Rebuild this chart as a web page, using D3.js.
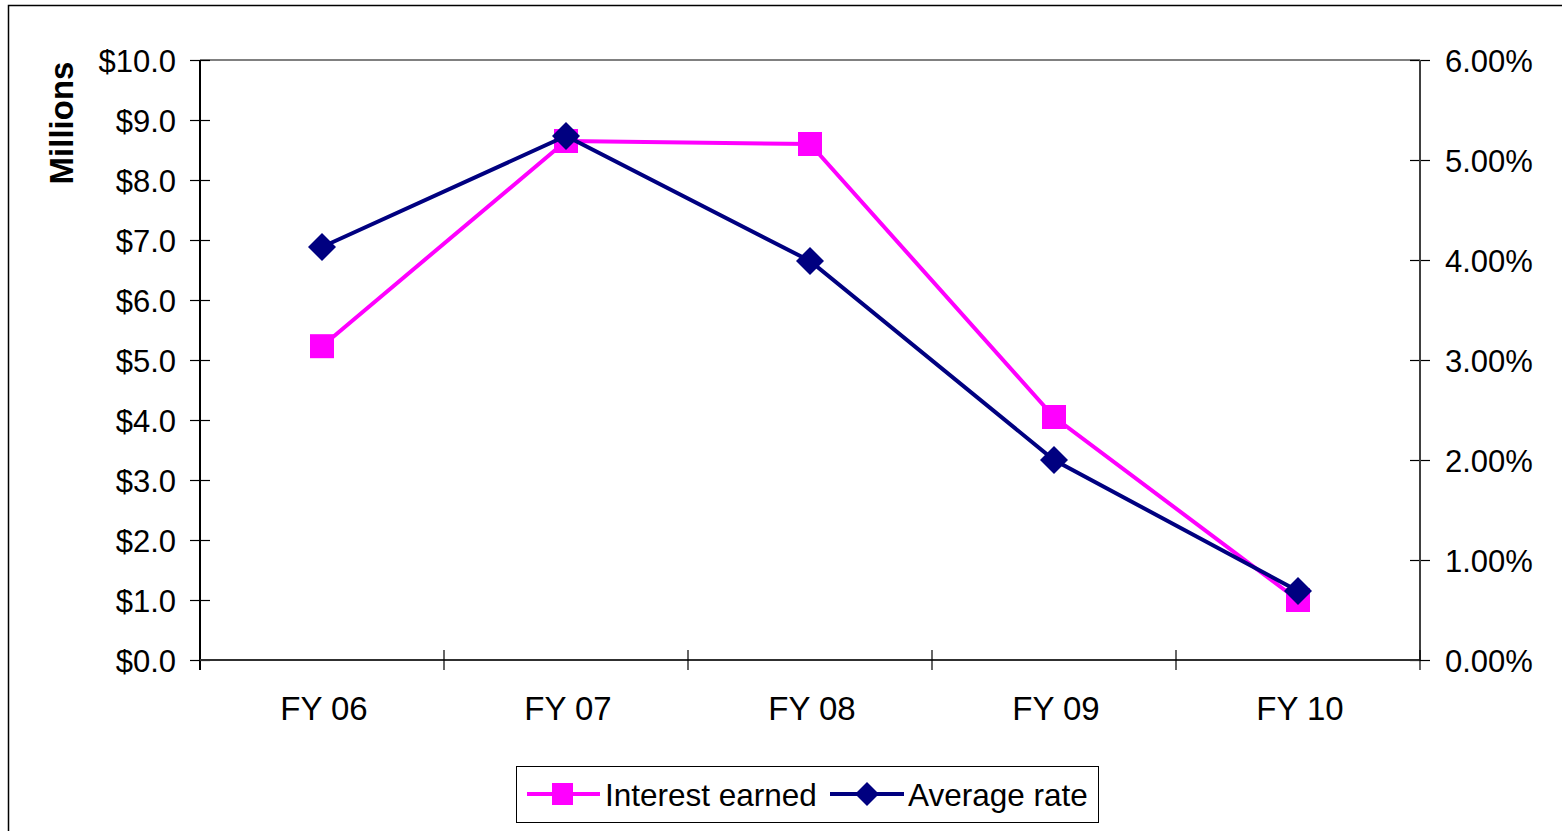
<!DOCTYPE html>
<html>
<head>
<meta charset="utf-8">
<script src="https://cdn.jsdelivr.net/npm/d3@7"></script>
<style>
  html, body { margin: 0; padding: 0; background: #fff; }
  svg { display: block; }
  text { font-family: "Liberation Sans", Arial, sans-serif; fill: #000; }
</style>
</head>
<body>
<svg id="chart" width="1562" height="831"></svg>
<script>
// Fiscal years on the category axis
const categories = ["FY 06", "FY 07", "FY 08", "FY 09", "FY 10"];
// Interest earned, in millions of dollars (left axis)
const interestEarned = [5.23, 8.65, 8.6, 4.05, 1.0];
// Average rate, in percent (right axis)
const averageRate = [4.13, 5.24, 3.99, 2.0, 0.69];
// Axis tick values
const leftTicks = [0, 1, 2, 3, 4, 5, 6, 7, 8, 9, 10];
const rightTicks = [0, 1, 2, 3, 4, 5, 6];

const svg = d3.select("#chart");
const plot = { left: 200, right: 1420, top: 60, bottom: 660 };

const x = d3.scaleBand().domain(categories).range([plot.left, plot.right]).padding(0);
const yLeft = d3.scaleLinear().domain([0, 10]).range([plot.bottom, plot.top]);
const yRight = d3.scaleLinear().domain([0, 6]).range([plot.bottom, plot.top]);

const PINK = "#FF00FF";
const NAVY = "#000080";
const FONT = 31;

// Outer chart frame
svg.append("rect")
  .attr("x", 8.5).attr("y", 5.5)
  .attr("width", 1600).attr("height", 900)
  .attr("fill", "none").attr("stroke", "#000").attr("stroke-width", 1.5);

// Plot area top border
svg.append("line")
  .attr("x1", plot.left).attr("x2", plot.right)
  .attr("y1", plot.top).attr("y2", plot.top)
  .attr("stroke", "#808080").attr("stroke-width", 2);

// Left axis
const leftAxis = d3.axisLeft(yLeft)
  .tickValues(leftTicks)
  .tickSizeInner(10).tickSizeOuter(0)
  .tickFormat(d => "$" + d3.format(".1f")(d));
const gL = svg.append("g").attr("transform", `translate(${plot.left},0)`).call(leftAxis);
gL.select(".domain").remove();
gL.selectAll(".tick line").attr("x1", -10).attr("x2", 10).attr("stroke", "#000").attr("stroke-width", 1.2);
gL.selectAll(".tick text").attr("x", -24).attr("dy", "0.36em")
  .style("font-size", FONT + "px").style("font-family", '"Liberation Sans", Arial, sans-serif');
svg.append("line")
  .attr("x1", plot.left).attr("x2", plot.left)
  .attr("y1", plot.top).attr("y2", plot.bottom + 10)
  .attr("stroke", "#000").attr("stroke-width", 2);

// Right axis
const rightAxis = d3.axisRight(yRight)
  .tickValues(rightTicks)
  .tickSizeInner(10).tickSizeOuter(0)
  .tickFormat(d => d3.format(".2f")(d) + "%");
const gR = svg.append("g").attr("transform", `translate(${plot.right},0)`).call(rightAxis);
gR.select(".domain").remove();
gR.selectAll(".tick line").attr("x1", -10).attr("x2", 10).attr("stroke", "#000").attr("stroke-width", 1.2);
gR.selectAll(".tick text").attr("x", 25).attr("dy", "0.36em")
  .style("font-size", FONT + "px").style("font-family", '"Liberation Sans", Arial, sans-serif');
svg.append("line")
  .attr("x1", plot.right).attr("x2", plot.right)
  .attr("y1", plot.top).attr("y2", plot.bottom)
  .attr("stroke", "#404040").attr("stroke-width", 2);

// Bottom (category) axis
svg.append("line")
  .attr("x1", plot.left).attr("x2", plot.right)
  .attr("y1", plot.bottom).attr("y2", plot.bottom)
  .attr("stroke", "#303030").attr("stroke-width", 2);
const bounds = categories.map(c => x(c)).concat([x(categories[categories.length - 1]) + x.bandwidth()]);
svg.append("g").selectAll("line").data(bounds.slice(1)).join("line")
  .attr("x1", d => d).attr("x2", d => d)
  .attr("y1", plot.bottom - 10).attr("y2", plot.bottom + 10)
  .attr("stroke", "#000").attr("stroke-width", 1.2);
svg.append("g").selectAll("text").data(categories).join("text")
  .attr("x", d => x(d) + x.bandwidth() / 2 + 2)
  .attr("y", 720)
  .attr("text-anchor", "middle")
  .style("font-size", "33px")
  .text(d => d);

// Axis title
svg.append("text")
  .attr("transform", "translate(73,123) rotate(-90)")
  .attr("text-anchor", "middle")
  .style("font-size", "33px").style("font-weight", "bold")
  .text("Millions");

const cx = d => x(d) + x.bandwidth() / 2;

// Interest earned series
const lineL = d3.line().x(d => cx(d[0])).y(d => yLeft(d[1]));
const interestPts = categories.map((c, i) => [c, interestEarned[i]]);
svg.append("path").datum(interestPts)
  .attr("d", lineL).attr("fill", "none")
  .attr("stroke", PINK).attr("stroke-width", 4);
svg.append("g").selectAll("rect").data(interestPts).join("rect")
  .attr("x", d => cx(d[0]) - 12).attr("y", d => yLeft(d[1]) - 12)
  .attr("width", 24).attr("height", 24)
  .attr("fill", PINK);

// Average rate series
const lineR = d3.line().x(d => cx(d[0])).y(d => yRight(d[1]));
const ratePts = categories.map((c, i) => [c, averageRate[i]]);
svg.append("path").datum(ratePts)
  .attr("d", lineR).attr("fill", "none")
  .attr("stroke", NAVY).attr("stroke-width", 4);
const diamond = "M0,-14L14,0L0,14L-14,0Z";
svg.append("g").selectAll("path").data(ratePts).join("path")
  .attr("transform", d => `translate(${cx(d[0])},${yRight(d[1])})`)
  .attr("d", diamond)
  .attr("fill", NAVY);

// Legend
const lg = svg.append("g");
lg.append("rect")
  .attr("x", 516.5).attr("y", 766.5).attr("width", 582).attr("height", 56)
  .attr("fill", "#fff").attr("stroke", "#000").attr("stroke-width", 1);
lg.append("line").attr("x1", 527).attr("x2", 600).attr("y1", 794).attr("y2", 794)
  .attr("stroke", PINK).attr("stroke-width", 4);
lg.append("rect").attr("x", 552).attr("y", 783).attr("width", 21).attr("height", 22).attr("fill", PINK);
lg.append("text").attr("x", 605).attr("y", 806).style("font-size", "31.5px").text("Interest earned");
lg.append("line").attr("x1", 830).attr("x2", 904).attr("y1", 794).attr("y2", 794)
  .attr("stroke", NAVY).attr("stroke-width", 4);
lg.append("path").attr("transform", "translate(867,794)").attr("d", "M0,-12L12,0L0,12L-12,0Z").attr("fill", NAVY);
lg.append("text").attr("x", 908).attr("y", 806).style("font-size", "31.5px").text("Average rate");
</script>
</body>
</html>
